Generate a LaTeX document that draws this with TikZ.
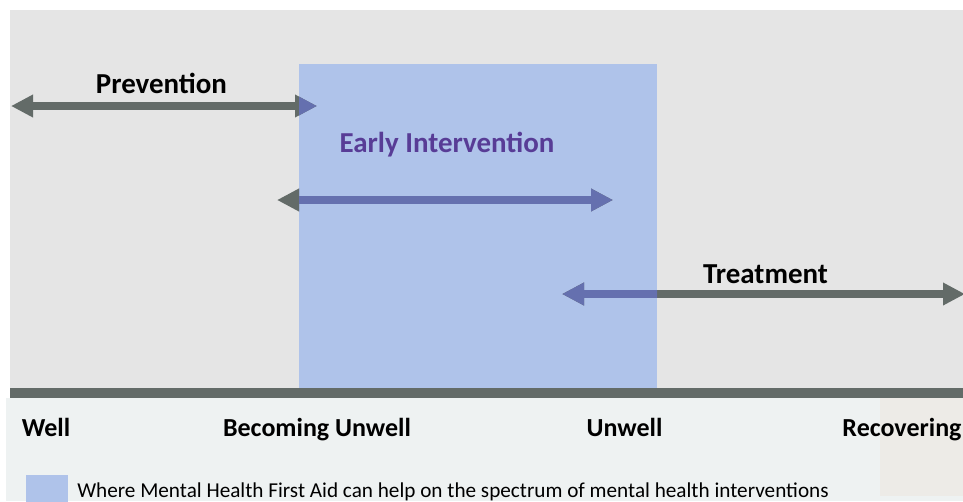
\documentclass[tikz,border=0pt]{standalone}
\usepackage{fontspec}
\setmainfont{Carlito}
\usetikzlibrary{arrows.meta,positioning}
\definecolor{PanelGrey}{HTML}{E5E5E5}
\definecolor{FieldBlue}{HTML}{AFC3EA}
\definecolor{SpanGrey}{HTML}{636B68}
\definecolor{SpanBlue}{HTML}{6570AF}
\definecolor{InterPurple}{HTML}{583C96}
\definecolor{LowerTint}{HTML}{EEF2F2}
\definecolor{WarmTint}{HTML}{EDEBE7}
\tikzset{
  spanarrow/.style={line width=6pt,
    {Triangle[length=16.5pt,width=16pt]}-{Triangle[length=16.5pt,width=16pt]}},
  spanlabel/.style={font=\fontsize{21.7}{26}\selectfont\bfseries,anchor=base,inner sep=0pt},
  stagelabel/.style={font=\fontsize{19.5}{23}\selectfont\bfseries,anchor=base,inner sep=0pt},
  legendtext/.style={font=\fontsize{15.9}{19}\selectfont,anchor=base west,inner sep=0pt}
}

\begin{document}
\begin{tikzpicture}[x=0.75pt,y=-0.75pt]
      \useasboundingbox (0,0) rectangle (963,501);
      \fill[white] (0,0) rectangle (963,501);
      \fill[PanelGrey] (10,10) rectangle (963,388);
      \fill[LowerTint] (6,398) rectangle (963,501);
      \fill[WarmTint] (880,398) rectangle (963,496);
      \fill[FieldBlue] (299,64) rectangle (657,388);
      \fill[SpanGrey] (10,388) rectangle (963,398);
      % spans
      \coordinate (prevL) at (11,106);
      \coordinate (prevR) at (317,106);
      \coordinate (earlyL) at (277,200);
      \coordinate (earlyR) at (613,200);
      \coordinate (treatL) at (562,294);
      \coordinate (treatR) at (965,294);
      \foreach \a/\b in {prevL/prevR,earlyL/earlyR,treatL/treatR}
        \draw[SpanGrey,spanarrow] (\a) -- (\b);
      \begin{scope}
        \clip (299,64) rectangle (657,388);
        \foreach \a/\b in {prevL/prevR,earlyL/earlyR,treatL/treatR}
          \draw[SpanBlue,spanarrow] (\a) -- (\b);
      \end{scope}
      \node[spanlabel] (prevent) at (161.5,93) {Prevention};
      \node[spanlabel,text=InterPurple] (early) at (447,152) {Early Intervention};
      \node[spanlabel] (treat) at (765.5,283) {Treatment};
      % stages along the bar
      \node[stagelabel] (well) at (46,436) {Well};
      \node[stagelabel] (becoming) at (317,436) {Becoming Unwell};
      \node[stagelabel] (unwell) at (624.5,436) {Unwell};
      \node[stagelabel] (recover) at (902,436) {Recovering};
      % legend
      \fill[FieldBlue] (26,475) rectangle (68,503);
      \node[legendtext] (legend) at (77,497) {Where Mental Health First Aid can help on the spectrum of mental health interventions};
    \end{tikzpicture}
\end{document}
